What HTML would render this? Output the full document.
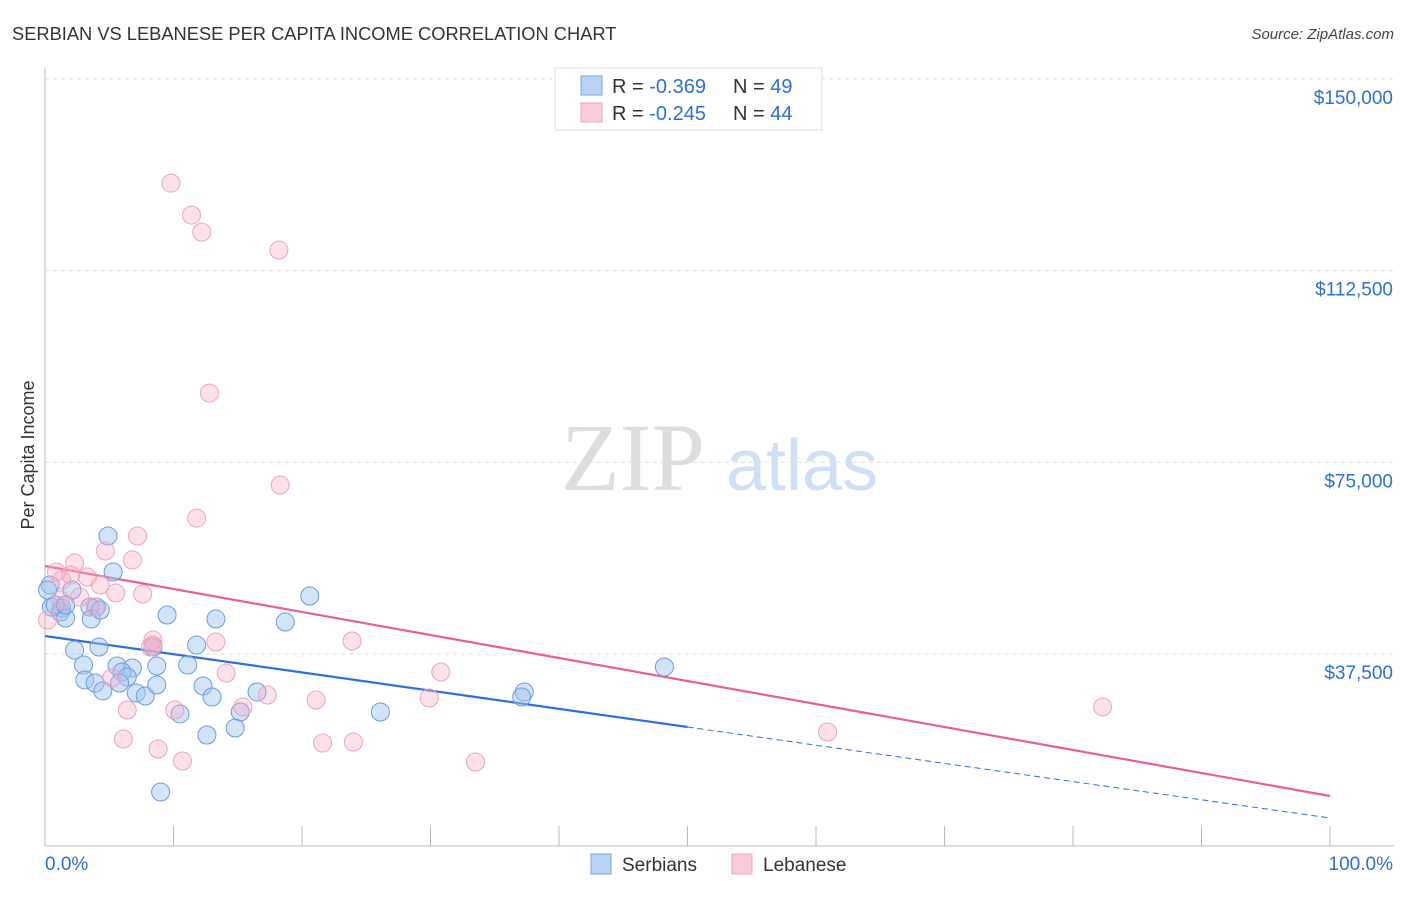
<!DOCTYPE html>
<html><head><meta charset="utf-8"><style>
body{margin:0;background:#fff;font-family:"Liberation Sans",sans-serif}
svg text{font-family:"Liberation Sans",sans-serif}
</style></head><body>
<svg id="chart" width="1406" height="892" xmlns="http://www.w3.org/2000/svg">
<text x="12" y="40" font-size="18.3" fill="#333">SERBIAN VS LEBANESE PER CAPITA INCOME CORRELATION CHART</text>
<text x="1394" y="39" font-size="15" fill="#444" text-anchor="end" font-style="italic">Source: ZipAtlas.com</text>
<g>
<text x="633" y="490" font-size="96" fill="#ddd" text-anchor="middle" style="font-family:'Liberation Serif',serif">ZIP</text>
<text x="802" y="490" font-size="72" fill="#cfe0f5" text-anchor="middle">atlas</text>
</g>
<g id="grid"></g>
<g id="axes"></g>
<text transform="translate(34,455) rotate(-90)" font-size="18" fill="#333" text-anchor="middle">Per Capita Income</text>
<g id="trends"></g>
<g id="points"></g>
<g>
<rect x="555" y="68" width="267" height="62" fill="#fff" stroke="#ddd"/>
<rect x="581" y="76" width="21" height="19" fill="#b8d3f5" stroke="#7aa6e0"/>
<rect x="581" y="103" width="21" height="19" fill="#fbcbd9" stroke="#eea3bd"/>
<text x="612" y="93" font-size="20" fill="#333">R = <tspan fill="#2f6fd0">-0.369</tspan></text>
<text x="733" y="93" font-size="20" fill="#333">N = <tspan fill="#2f6fd0">49</tspan></text>
<text x="612" y="120" font-size="20" fill="#333">R = <tspan fill="#2f6fd0">-0.245</tspan></text>
<text x="733" y="120" font-size="20" fill="#333">N = <tspan fill="#2f6fd0">44</tspan></text>
</g>
<g>
<rect x="591" y="854" width="20" height="20" fill="#b8d3f5" stroke="#7aa6e0"/>
<text x="622" y="871" font-size="19" fill="#333">Serbians</text>
<rect x="732" y="854" width="20" height="20" fill="#fbcbd9" stroke="#eea3bd"/>
<text x="763" y="871" font-size="19" fill="#333">Lebanese</text>
</g>
</svg>
<script>
const yTicks=[37500,75000,112500,150000];
const yTickLabels=["$37,500","$75,000","$112,500","$150,000"];
const xTickLabels=["0.0%","100.0%"];
const serbX=[4.9,5.3,0.4,2.1,4.0,3.5,1.3,0.5,1.2,1.6,3.6,9.5,13.3,20.6,18.7,2.3,4.2,8.4,11.8,3.0,5.6,6.8,8.7,11.1,6.0,3.1,6.4,3.9,4.5,5.8,7.1,7.8,8.7,12.3,13.0,16.5,37.3,37.1,48.2,10.5,15.2,26.1,12.6,14.8,9.0,0.2,0.8,1.6,4.3];
const serbY=[60580,53540,50990,50020,46690,46690,46490,46690,45710,44540,44340,45130,44340,48840,43750,38270,38860,38860,39250,35350,35150,34760,35150,35350,33980,32420,33000,31830,30270,31830,29870,29280,31440,31240,29090,30070,30070,29090,34960,25770,26160,26160,21660,23030,10500,50020,47080,47080,46100];
const lebX=[9.8,11.4,12.2,18.2,12.8,18.3,11.8,7.2,4.7,6.8,2.3,0.9,2.0,3.3,1.3,4.3,5.5,7.6,2.7,3.9,0.2,8.4,13.3,23.9,8.2,14.1,30.8,5.2,6.4,10.1,15.4,17.3,21.1,29.9,60.9,82.3,6.1,8.8,21.6,24.0,10.7,33.5,8.4,1.2];
const lebY=[129620,123360,120030,116510,88540,70550,64090,60580,57640,55880,55290,53540,52950,52560,51970,50990,49430,49230,48650,46690,44150,40240,39840,40040,38860,33780,33980,32810,26550,26550,27140,29480,28500,28890,22240,27140,20870,18910,20090,20280,16570,16370,39250,48060];
const serbTrend=[41020,5418];
const lebTrend=[54715,9722];
const NS="http://www.w3.org/2000/svg";
const X=p=>45+p*12.85;
const Y=v=>845.7-v*191.7/37500;
function mk(t,a,parent){const e=document.createElementNS(NS,t);for(const k in a)e.setAttribute(k,a[k]);document.getElementById(parent).appendChild(e);return e;}
yTicks.forEach((v,i)=>{
 const l=mk('line',{x1:45,x2:1394,y1:Y(v),y2:Y(v),stroke:'#ddd','stroke-dasharray':'4,4'},'grid');
 
 
 const t=mk('text',{x:1393,y:Y(v)+25,'font-size':19,fill:'#2f6fd0','text-anchor':'end'},'axes');
 t.textContent=yTickLabels[i];
 
 
});
mk('line',{x1:45,x2:45,y1:68,y2:846,stroke:'#bbb'},'axes');
mk('line',{x1:45,x2:1394,y1:846,y2:846,stroke:'#bbb'},'axes');
for(let i=0;i<=10;i++){const tk=mk('line',{x1:X(i*10),x2:X(i*10),y1:826,y2:846,stroke:'#bbb'},'axes');
 
 }
const xl0=mk('text',{x:45,y:870,'font-size':19,fill:'#2f6fd0'},'axes');xl0.textContent=xTickLabels[0];


const xl1=mk('text',{x:1393,y:870,'font-size':19,fill:'#2f6fd0','text-anchor':'end'},'axes');xl1.textContent=xTickLabels[1];


function pts(xs,ys,fill,stroke,name){xs.forEach((x,i)=>{const c=mk('circle',{cx:X(x),cy:Y(ys[i]),r:9,fill:fill,stroke:stroke,'stroke-width':1},'points');
 
 });}
pts(serbX,serbY,'rgba(160,196,240,0.45)','#6b9be0','serbian-point');
pts(lebX,lebY,'rgba(245,170,195,0.35)','#eca5bd','lebanese-point');
const sy=p=>serbTrend[0]+(serbTrend[1]-serbTrend[0])*p/100;
const s1=mk('line',{x1:X(0),y1:Y(sy(0)),x2:X(50),y2:Y(sy(50)),stroke:'#2f6fd8','stroke-width':2.2},'trends');


const s2=mk('line',{x1:X(50),y1:Y(sy(50)),x2:X(100),y2:Y(sy(100)),stroke:'#2f6fd8','stroke-width':1,'stroke-dasharray':'6,4'},'trends');


const l1=mk('line',{x1:X(0),y1:Y(lebTrend[0]),x2:X(100),y2:Y(lebTrend[1]),stroke:'#e8608e','stroke-width':2.2},'trends');


</script>
</body></html>
